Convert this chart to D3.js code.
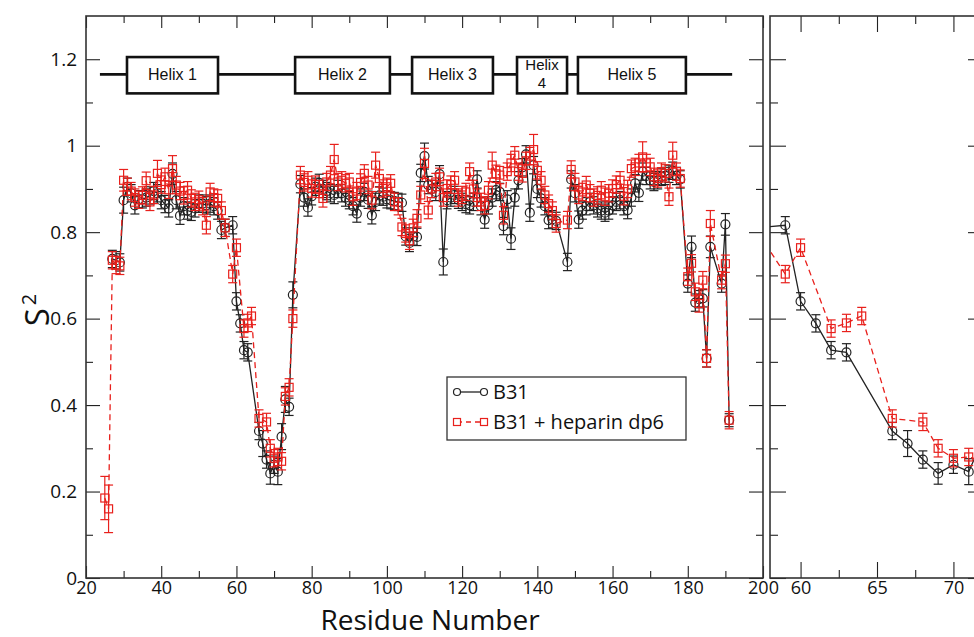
<!DOCTYPE html>
<html><head><meta charset="utf-8">
<script src="https://cdn.jsdelivr.net/npm/d3@7"></script>
<style>body{margin:0;background:#fff} svg{display:block}</style>
</head><body><svg id="c" width="974" height="637"></svg>
<script>
// ---------- DATA ----------
const firstResidue = 25;
const s2B31 = [
 null,null,.738,.735,.73,.874,.905,.89,.862,.876,
 .876,.88,.885,.895,.89,.874,.865,.855,.935,.874,
 .838,.86,.85,.847,.855,.866,.866,.862,.866,.86,
 .85,.805,.81,null,.816,.64,.589,.527,.522,null,
 null,.34,.311,.274,.242,.262,.246,.327,.413,.396,
 .655,null,.911,.88,.857,.883,.905,.914,.9,.895,
 .89,.886,.9,.89,.88,.874,.86,.843,.88,.893,
 .875,.839,.87,.885,.882,.876,.874,.872,.87,.868,
 .79,.775,.79,.789,.937,.976,.909,.9,.893,.934,
 .731,.874,.88,.886,.875,.87,.865,.862,.87,.922,
 .86,.829,.862,.88,.897,.893,.814,.876,.785,.88,
 .92,.95,.98,.845,.955,.9,.878,.86,.828,.83,
 .826,null,null,.731,.922,.89,.829,.85,.86,.87,
 .862,.855,.85,.845,.85,.862,.87,.874,.86,.851,
 .88,.913,.891,.94,.93,.92,.916,.92,.928,.93,
 .935,.942,.93,.922,null,.681,.766,.637,.645,.647,
 .508,.766,null,null,.681,.818,.365
];
const s2Heparin = [
 .185,.16,.735,.724,.722,.92,.905,.895,.88,.875,
 .885,.919,.87,.886,.936,.91,.928,.898,.947,.909,
 .895,.885,.897,.878,.87,.875,.86,.816,.893,.88,
 .878,.85,.81,null,.703,.764,null,.577,.59,.606,
 null,.369,null,.361,.30,.277,.28,.27,.42,.441,
 .60,null,.932,.915,.92,.901,.91,.90,.878,.916,
 .932,.968,.916,.92,.913,.916,.882,.895,.915,.936,
 .909,.874,.955,.924,.901,.905,.913,.87,.86,.812,
 .797,.78,.81,.832,.886,.959,.851,.90,.916,.928,
 .88,.901,.91,.92,.88,.886,.893,.94,.9,.88,
 .87,.862,.897,.955,.935,.932,.839,.94,.96,.978,
 .94,.936,.965,.976,.991,.943,.92,.886,.866,.85,
 .82,null,null,.828,.945,.916,.886,.893,.909,.89,
 .88,.885,.897,.882,.89,.901,.91,.92,.883,.9,
 .947,.951,.96,.974,.96,.951,.928,.924,.94,.936,
 .882,.978,.94,.924,null,.697,.728,.662,.635,.689,
 .508,.82,null,null,.689,.727,.365
];
const errDefault = 0.02;
const errB31 = {30:.03,43:.025,59:.02,67:.03,69:.025,71:.03,72:.03,73:.03,75:.03,110:.03,115:.03,133:.025,148:.02,181:.025,186:.025,190:.025,191:.015};
const errHeparin = {25:.05,26:.055,30:.025,39:.03,43:.03,86:.035,97:.03,110:.035,128:.03,139:.035,168:.035,176:.03,186:.03,185:.02};
const seriesNames = ["B31","B31 + heparin dp6"];
const helixNames = ["Helix 1","Helix 2","Helix 3","Helix\n4","Helix 5"];
const helixStart = [30.9,75.6,106.7,134.6,150.8];
const helixEnd   = [55.1,100.8,128.2,147.9,179.5];
const topoLine = [23.7,191.8];
const xTicksLeft = [20,40,60,80,100,120,140,160,180,200];
const xTicksRight = [60,65,70];
const yTicks = [0,0.2,0.4,0.6,0.8,1,1.2];

// ---------- SETUP ----------
const svg = d3.select("#c");
const y = d3.scaleLinear([0,1.3],[578,16]);
const xL = d3.scaleLinear([20,200],[86,763]);
const xR = d3.scaleLinear([58,72],[770,984]);
const FONT = "'Open Sans', 'Noto Sans', sans-serif";

function pts(arr, errs){
  return arr.map((v,i)=>({r:firstResidue+i, v, e: errs[firstResidue+i] ?? errDefault})).filter(d=>d.v!==null);
}
const dataB = pts(s2B31, errB31);
const dataH = pts(s2Heparin, errHeparin);

const defs = svg.append("defs");
function panel(id, x, majorX, minorX, majorLen, minorLen, yMajLen, yMinLen, showYLabels){
  const [x0,x1] = x.range();
  const [yb, yt] = y.range();
  defs.append("clipPath").attr("id",id).append("rect")
    .attr("x",x0).attr("y",yt).attr("width",x1-x0).attr("height",yb-yt);
  const g = svg.append("g");
  const yMinor = d3.range(1,13,2).map(d=>d/10);
  const axes = [
    [d3.axisBottom(x).tickValues(majorX).tickSize(-majorLen).tickPadding(3).tickFormat(d3.format("d")), yb],
    [d3.axisBottom(x).tickValues(minorX).tickSize(-minorLen).tickFormat(""), yb],
    [d3.axisTop(x).tickValues(majorX).tickSize(-majorLen).tickFormat(""), yt],
    [d3.axisTop(x).tickValues(minorX).tickSize(-minorLen).tickFormat(""), yt]
  ];
  axes.forEach(([ax, ty])=>{
    const a = g.append("g").attr("transform",`translate(0,${ty})`).call(ax);
    a.select(".domain").remove();
    a.selectAll("line").attr("stroke","#222").attr("stroke-width",1.1);
    a.selectAll("text").attr("font-family",FONT).attr("font-size",18).attr("fill","#111");
  });
  const yAxes = [
    [d3.axisLeft(y).tickValues(yTicks).tickSize(-yMajLen).tickPadding(9).tickFormat(showYLabels?d3.format("~g"):""), x0],
    [d3.axisLeft(y).tickValues(yMinor).tickSize(-yMinLen).tickFormat(""), x0],
    [d3.axisRight(y).tickValues(yTicks).tickSize(-yMajLen).tickFormat(""), x1],
    [d3.axisRight(y).tickValues(yMinor).tickSize(-yMinLen).tickFormat(""), x1]
  ];
  yAxes.forEach(([ax, tx])=>{
    const a = g.append("g").attr("transform",`translate(${tx},0)`).call(ax);
    a.select(".domain").remove();
    a.selectAll("line").attr("stroke","#222").attr("stroke-width",1.1);
    a.selectAll("text").attr("font-family",FONT).attr("font-size",19).attr("fill","#111");
  });
  g.append("rect").attr("x",x0).attr("y",yt).attr("width",x1-x0).attr("height",yb-yt)
    .attr("fill","none").attr("stroke","#333").attr("stroke-width",1.6);

  const dg = svg.append("g").attr("clip-path",`url(#${id})`);
  drawSeries(dg, x, dataB, "#222", null, "circle");
  drawSeries(dg, x, dataH, "#e8201c", "6,4", "square");
  return g;
}

function drawSeries(g, x, data, color, dash, shape){
  const line = d3.line().x(d=>x(d.r)).y(d=>y(d.v));
  g.append("path").datum(data).attr("d",line).attr("fill","none")
    .attr("stroke",color).attr("stroke-width",1.3).attr("stroke-dasharray",dash);
  const cap = 4.5;
  const eb = g.append("g").attr("stroke",color).attr("stroke-width",1.2);
  data.forEach(d=>{
    const cx = x(d.r), y1 = y(d.v+d.e), y2 = y(d.v-d.e);
    eb.append("line").attr("x1",cx).attr("x2",cx).attr("y1",y1).attr("y2",y2);
    eb.append("line").attr("x1",cx-cap).attr("x2",cx+cap).attr("y1",y1).attr("y2",y1);
    eb.append("line").attr("x1",cx-cap).attr("x2",cx+cap).attr("y1",y2).attr("y2",y2);
  });
  const mk = g.append("g").attr("fill","none").attr("stroke",color).attr("stroke-width",1.2);
  data.forEach(d=>{
    if(shape==="circle") mk.append("circle").attr("cx",x(d.r)).attr("cy",y(d.v)).attr("r",4.5);
    else mk.append("rect").attr("x",x(d.r)-4).attr("y",y(d.v)-4).attr("width",8).attr("height",8);
  });
}

panel("clipL", xL, xTicksLeft, d3.range(30,200,20), 12, 7, 14, 7, true);
panel("clipR", xR, xTicksRight, [62.5,67.5], 16, 8, 16, 8, false);

// ---------- HELIX TOPOLOGY ----------
const topo = svg.append("g");
const yMid = y(1.165), yTop = y(1.205), yBot = y(1.121);
const NARROW = "'Liberation Sans Narrow', 'Liberation Sans', sans-serif";
topo.append("line").attr("x1",xL(topoLine[0])).attr("x2",xL(topoLine[1]))
  .attr("y1",yMid).attr("y2",yMid).attr("stroke","#111").attr("stroke-width",2.6);
helixNames.forEach((n,i)=>{
  const x0 = xL(helixStart[i]), x1 = xL(helixEnd[i]);
  topo.append("rect").attr("x",x0).attr("y",yTop).attr("width",x1-x0).attr("height",yBot-yTop)
    .attr("fill","#fff").attr("stroke","#111").attr("stroke-width",2.6);
  const lines = n.split("\n");
  if(lines.length===1){
    topo.append("text").attr("x",(x0+x1)/2).attr("y",yMid+6).attr("text-anchor","middle")
      .attr("font-family",NARROW).attr("font-size",16).attr("fill","#111").text(n);
  } else {
    lines.forEach((s,j)=>{
      topo.append("text").attr("x",(x0+x1)/2).attr("y",yMid-4+j*18).attr("text-anchor","middle")
        .attr("font-family",NARROW).attr("font-size",15).attr("fill","#111").text(s);
    });
  }
});

// ---------- LEGEND ----------
const lg = svg.append("g");
lg.append("rect").attr("x",447).attr("y",377).attr("width",239).attr("height",63)
  .attr("fill","#fff").attr("stroke","#333").attr("stroke-width",1.3);
const legendStyles = [{c:"#222",dash:null,shape:"circle"},{c:"#e8201c",dash:"5,4",shape:"square"}];
seriesNames.forEach((n,i)=>{
  const ly = 392 + i*30, s = legendStyles[i];
  lg.append("line").attr("x1",457).attr("x2",484).attr("y1",ly).attr("y2",ly)
    .attr("stroke",s.c).attr("stroke-width",1.3).attr("stroke-dasharray",s.dash);
  [457,484].forEach(cx=>{
    if(s.shape==="circle") lg.append("circle").attr("cx",cx).attr("cy",ly).attr("r",3.5).attr("fill","#fff").attr("stroke",s.c).attr("stroke-width",1.2);
    else lg.append("rect").attr("x",cx-3.5).attr("y",ly-3.5).attr("width",7).attr("height",7).attr("fill","#fff").attr("stroke",s.c).attr("stroke-width",1.2);
  });
  lg.append("text").attr("x",493).attr("y",ly+7).attr("font-family",FONT).attr("font-size",20).attr("fill","#111").text(n);
});

// ---------- AXIS TITLES ----------
svg.append("text").attr("x",430).attr("y",630).attr("text-anchor","middle")
  .attr("font-family",FONT).attr("font-size",28).attr("fill","#111").text("Residue Number");
const yl = svg.append("text").attr("transform","translate(49,310) rotate(-90)").attr("text-anchor","middle")
  .attr("font-family",FONT).attr("font-size",33).attr("fill","#111");
yl.append("tspan").text("S");
yl.append("tspan").attr("font-size",20).attr("dy",-13).attr("dx",3).text("2");
</script></body></html>
